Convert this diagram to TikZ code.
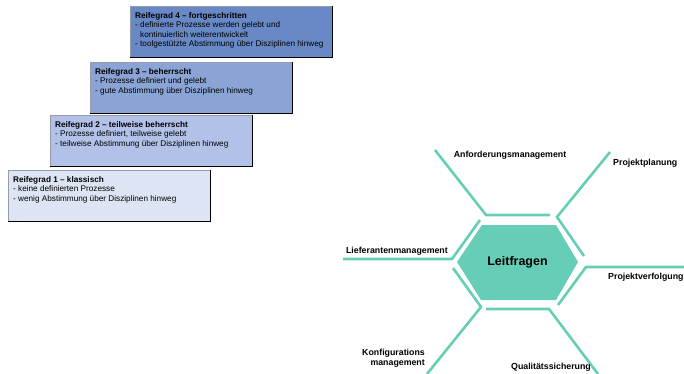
\documentclass[tikz,border=0pt]{standalone}
\usepackage{fontspec}
\setmainfont{Liberation Sans}
\definecolor{ringc}{RGB}{102,206,182}
\definecolor{c4}{RGB}{104,137,198}
\definecolor{c3}{RGB}{138,164,214}
\definecolor{c2}{RGB}{178,193,232}
\definecolor{c1}{RGB}{221,228,243}
\definecolor{edgegray}{RGB}{150,155,165}
\begin{document}
\begin{tikzpicture}[x=1pt,y=-1pt,
  box/.style={draw=edgegray, line width=0.6pt, minimum width=202pt, minimum height=51pt, inner sep=0pt, anchor=north west},
  shadowline/.style={draw=black, line width=1.6pt},
  boxtext/.style={anchor=north west, inner sep=0pt, align=left, font=\fontsize{8.2}{9.3}\selectfont},
  ring/.style={draw=ringc, line width=2.6pt},
  lab/.style={font=\fontsize{8.8}{10}\selectfont\bfseries, inner sep=0pt}]
\useasboundingbox (0,0) rectangle (684,374);

% maturity boxes
\node[box, fill=c4] (b4) at (130,6) {};
\node[box, fill=c3] (b3) at (90,62) {};
\node[box, fill=c2] (b2) at (50,115) {};
\node[box, fill=c1] (b1) at (8,170) {};
\foreach \b in {b4,b3,b2,b1}{
  \draw[shadowline] (\b.south west) -- (\b.south east) -- (\b.north east);
}

\node[boxtext] (t4) at ([shift={(5,6.5)}]b4.north west) {\textbf{Reifegrad 4 – fortgeschritten}\\
- definierte Prozesse werden gelebt und\\
\phantom{- }kontinuierlich weiterentwickelt\\
- toolgestützte Abstimmung über Disziplinen hinweg};
\node[boxtext] (t3) at ([shift={(5,6.5)}]b3.north west) {\textbf{Reifegrad 3 – beherrscht}\\
- Prozesse definiert und gelebt\\
- gute Abstimmung über Disziplinen hinweg};
\node[boxtext] (t2) at ([shift={(5,6.5)}]b2.north west) {\textbf{Reifegrad 2 – teilweise beherrscht}\\
- Prozesse definiert, teilweise gelebt\\
- teilweise Abstimmung über Disziplinen hinweg};
\node[boxtext] (t1) at ([shift={(5,6.5)}]b1.north west) {\textbf{Reifegrad 1 – klassisch}\\
- keine definierten Prozesse\\
- wenig Abstimmung über Disziplinen hinweg};

% central hexagon
\fill[ringc] (457,262) -- (482,225) -- (556,225) -- (578,262) -- (556,300) -- (481,300) -- cycle;
\node[font=\fontsize{12.5}{14}\selectfont\bfseries, inner sep=0pt] (hex) at (517.5,262) {Leitfragen};

% ring pieces
\coordinate (oTL) at (435,150);
\coordinate (oTR) at (610,152);
\coordinate (oR) at (684,267);
\coordinate (oBR) at (598,374);
\coordinate (oBL) at (427,374);
\coordinate (oL) at (343,259);
\draw[ring] (oTL) -- (486,215) -- (550,215);
\draw[ring] (oTR) -- (557,217) -- (584,256);
\draw[ring] (oR) -- (586,267) -- (558,305);
\draw[ring] (oBR) -- (549,309) -- (486,309);
\draw[ring] (oBL) -- (481,307) -- (453,268);
\draw[ring] (oL) -- (452,259) -- (480,220);

% labels
\node[lab] (l1) at (510,155) {Anforderungsmanagement};
\node[lab, anchor=west] (l2) at (613,163) {Projektplanung};
\node[lab, anchor=east] (l3) at (448,251) {Lieferantenmanagement};
\node[lab, anchor=west] (l4) at (608,277) {Projektverfolgung};
\node[lab, anchor=east, align=right] (l5) at (425,358) {Konfigurations\\management};
\node[lab] (l6) at (551,367) {Qualitätssicherung};
\end{tikzpicture}
\end{document}
